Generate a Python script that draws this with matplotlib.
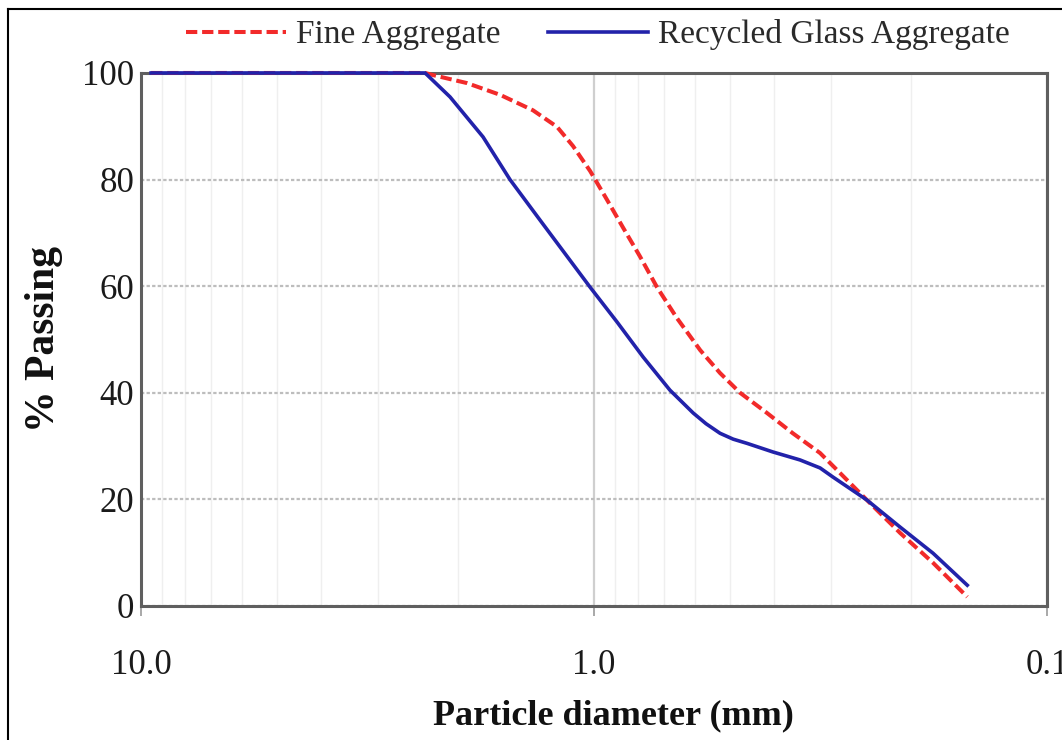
import matplotlib
matplotlib.use("Agg")
import matplotlib.pyplot as plt
from matplotlib.lines import Line2D
from matplotlib.ticker import FixedLocator, NullFormatter

# ---------------------------
# DATA
# ---------------------------

fine_d = [9.5, 2.36, 2.267, 1.907, 1.612, 1.364, 1.207, 1.113, 1.020, 0.936,
          0.863, 0.792, 0.726, 0.656, 0.583, 0.527, 0.476, 0.415, 0.364,
          0.317, 0.286, 0.250, 0.211, 0.1785, 0.150]
fine_pass = [100, 100, 99.6, 98.1, 95.9, 93.0, 89.9, 86.3, 81.6, 76.2,
             71.0, 65.6, 59.8, 54.0, 48.0, 43.7, 40.0, 36.2, 32.4,
             28.7, 24.9, 19.9, 13.7, 8.1, 1.7]

glass_d = [9.5, 2.36, 2.079, 1.758, 1.533, 1.316, 1.147, 1.020, 0.890,
           0.779, 0.680, 0.604, 0.566, 0.527, 0.493, 0.459, 0.403, 0.351,
           0.317, 0.297, 0.250, 0.211, 0.1785, 0.150]
glass_pass = [100, 100, 95.5, 88.0, 80.0, 72.4, 65.6, 59.8, 53.3,
              46.7, 40.5, 36.2, 34.2, 32.4, 31.3, 30.5, 28.9, 27.4,
              25.9, 24.2, 19.9, 14.8, 9.9, 3.9]

x_ticks = [10.0, 1.0, 0.1]
x_tick_labels = ["10.0", "1.0", "0.1"]
y_ticks = [0, 20, 40, 60, 80, 100]

# ---------------------------
# PLOT
# ---------------------------

plt.rcParams["font.family"] = ["Liberation Serif", "DejaVu Serif"]

fig = plt.figure(figsize=(10.62, 7.40), dpi=100)
ax = fig.add_axes([0.1328, 0.1811, 0.8531, 0.7203])

ax.plot(fine_d, fine_pass, color="#f22a2a", lw=2.9, dashes=(2.8, 1.2),
        label="Fine Aggregate", clip_on=False, zorder=3)
ax.plot(glass_d, glass_pass, color="#2222aa", lw=2.6,
        label="Recycled Glass Aggregate", clip_on=False, zorder=3)

ax.set_xscale("log")
ax.set_xlim(10, 0.1)
ax.set_ylim(0, 100)

ax.xaxis.set_major_locator(FixedLocator(x_ticks))
ax.set_xticklabels(x_tick_labels)
minor = [m * 10.0 ** k for k in (-1, 0) for m in range(2, 10)]
ax.xaxis.set_minor_locator(FixedLocator(minor))
ax.xaxis.set_minor_formatter(NullFormatter())
ax.set_yticks(y_ticks)

ax.grid(True, which="minor", axis="x", color="#efefef", lw=1.0)
ax.grid(True, which="major", axis="x", color="#cfcfcf", lw=1.6)
ax.grid(True, which="major", axis="y", color="#bdbdbd", lw=1.6,
        linestyle=(0, (1.5, 1.0)))
ax.set_axisbelow(True)

for s in ax.spines.values():
    s.set_color("#5f5f5f")
    s.set_linewidth(2.2)

ax.tick_params(axis="x", which="major", direction="out", length=7, width=1.2,
               color="#999999", pad=24, labelsize=25, labelcolor="#1a1a1a")
ax.tick_params(axis="x", which="minor", length=0)
ax.tick_params(axis="y", length=0, pad=5, labelsize=25, labelcolor="#1a1a1a")

ax.set_xlabel("Particle diameter (mm)", fontsize=26, fontweight="bold",
              color="#111111")
ax.xaxis.set_label_coords(0.521, -0.176)
ax.xaxis.label.set_va("top")
ax.set_ylabel("% Passing", fontsize=30, fontweight="bold",
              color="#111111", labelpad=14)

fig.legend(loc="center", bbox_to_anchor=(0.563, 0.953), ncol=2,
           frameon=False, fontsize=24, handlelength=3.0, handletextpad=0.3,
           columnspacing=1.4, labelcolor="#2a2a2a")

# thin frame around the picture (top and left edges)
fig.add_artist(Line2D([8 / 1062, 1.0], [1 - 9 / 740, 1 - 9 / 740],
                      color="black", lw=1.5, transform=fig.transFigure))
fig.add_artist(Line2D([8 / 1062, 8 / 1062], [0.0, 1 - 9 / 740],
                      color="black", lw=1.5, transform=fig.transFigure))

fig.savefig("out.png", dpi=100)
